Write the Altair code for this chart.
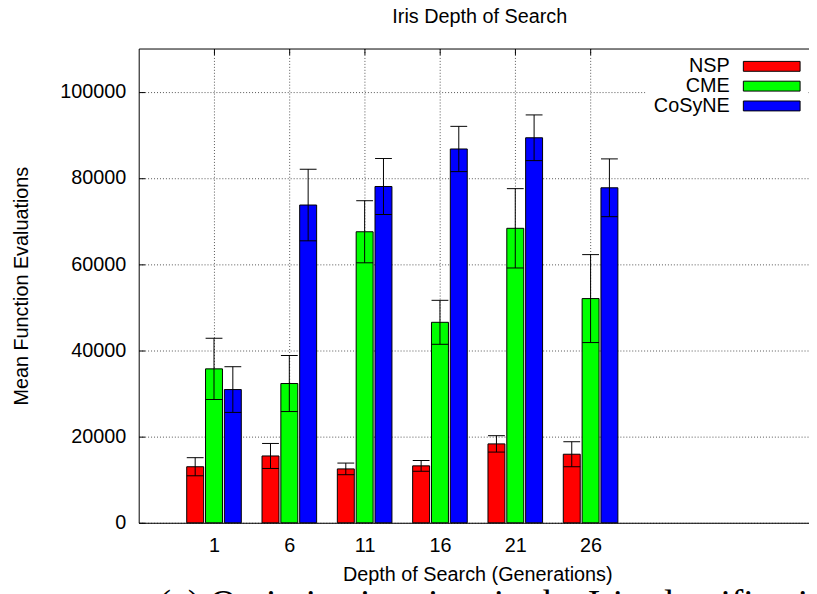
import altair as alt
import pandas as pd

# ---- data ----
depths = [1, 6, 11, 16, 21, 26]
series = ["NSP", "CME", "CoSyNE"]
colors = ["#ff0000", "#00ff00", "#0000ff"]
nsp_mean = [13000, 15500, 12500, 13200, 18300, 15900]
nsp_err = [2100, 2900, 1350, 1250, 1900, 2900]
cme_mean = [35700, 32300, 67500, 46500, 68300, 52000]
cme_err = [7100, 6500, 7200, 5100, 9200, 10200]
cosyne_mean = [30900, 73700, 78000, 86700, 89300, 77700]
cosyne_err = [5300, 8300, 6500, 5250, 5300, 6700]
y_ticks = [0, 20000, 40000, 60000, 80000, 100000]
caption = "(a) Optimization time in the Iris classification task"

means = [nsp_mean, cme_mean, cosyne_mean]
errs = [nsp_err, cme_err, cosyne_err]

# histogram layout (gnuplot-style clustered bars): 3 bars + 1 gap per cluster
GROUP = 5.0                 # spacing of the clusters in depth units
SLOT = GROUP / 4.0
HALF = SLOT * 0.9 / 2.0

rows = []
for i, s in enumerate(series):
    for j, d in enumerate(depths):
        xc = d + (i - 1) * SLOT
        m, e = means[i][j], errs[i][j]
        rows.append(dict(depth=d, series=s, mean=m, err=e, xc=xc,
                         x0=xc - HALF, x1=xc + HALF, lo=m - e, hi=m + e))
df = pd.DataFrame(rows)

FONT = "Liberation Sans"
xscale = alt.Scale(domain=[-4, 40.5], nice=False, zero=False)
yscale = alt.Scale(domain=[0, 110000], nice=False, zero=True)

grid_style = dict(grid=True, gridColor="#555555", gridDash=[1, 2], gridWidth=1)

bars = alt.Chart(df).mark_bar(stroke="black", strokeWidth=1).encode(
    x=alt.X("x0:Q", scale=xscale,
            axis=alt.Axis(values=depths, title="Depth of Search (Generations)",
                          ticks=False, labelPadding=13, domain=True,
                          domainColor="black", titleX=342, titleY=58,
                          titleBaseline="alphabetic", labelFlush=False,
                          **grid_style)),
    x2="x1:Q",
    y=alt.Y("mean:Q", scale=yscale,
            axis=alt.Axis(values=y_ticks, title="Mean Function Evaluations",
                          ticks=False, labelPadding=13, domain=True,
                          domainColor="black", titleX=-112,
                          titleBaseline="alphabetic", format="d",
                          labelFlush=False, **grid_style)),
    y2=alt.datum(0),
    color=alt.Color("series:N", scale=alt.Scale(domain=series, range=colors),
                    legend=alt.Legend(
                        title=None, orient="none", legendX=512, legendY=3,
                        symbolType="M-3.016,-0.526L3.016,-0.526L3.016,0.526L-3.016,0.526Z",
                        symbolSize=361, symbolStrokeColor="black",
                        symbolStrokeWidth=1, symbolOpacity=1,
                        labelFont=FONT, labelFontSize=20, labelColor="black",
                        labelAlign="right", labelOffset={"expr": "-52.35"},
                        symbolOffset=112.35,
                        rowPadding=0, fillColor="white", padding=5,
                        labelLimit=0)),
)

# error bars; this layer also carries the top frame line
err_rule = alt.Chart(df).mark_rule(color="black", strokeWidth=1).encode(
    x=alt.X("xc:Q", scale=xscale,
            axis=alt.Axis(orient="top", labels=False, ticks=False, grid=False,
                          domain=True, domainColor="black", title=None)),
    y=alt.Y("lo:Q", scale=yscale, axis=None),
    y2="hi:Q",
)

# upper caps; this layer carries gnuplot-like inward ticks on top and left
inward = dict(labels=False, grid=False, domain=False, ticks=True, tickSize=6,
              tickColor="black", tickWidth=1, title=None, offset=-6)
cap_hi = alt.Chart(df).mark_tick(orient="horizontal", size=17, thickness=1,
                                 color="black", opacity=1).encode(
    x=alt.X("xc:Q", scale=xscale,
            axis=alt.Axis(orient="top", values=depths, **inward)),
    y=alt.Y("hi:Q", scale=yscale,
            axis=alt.Axis(orient="left", values=y_ticks, **inward)),
)
cap_lo = alt.Chart(df).mark_tick(orient="horizontal", size=17, thickness=1,
                                 color="black", opacity=1).encode(
    x=alt.X("xc:Q", scale=xscale, axis=None),
    y=alt.Y("lo:Q", scale=yscale, axis=None),
)

caption_text = alt.Chart(pd.DataFrame({"caption": [caption]})).mark_text(
    font="Liberation Serif", fontSize=38, align="left", baseline="alphabetic",
    color="black").encode(
    x=alt.value(20), y=alt.value(573), text="caption:N")

chart = alt.layer(bars, err_rule, cap_hi, cap_lo, caption_text).resolve_axis(
    x="independent", y="independent"
).properties(
    width=677, height=479,
    background="white",
    autosize=alt.AutoSizeParams(type="none"),
    padding={"left": 132, "top": 38, "right": 0, "bottom": 69},
    title=alt.TitleParams("Iris Depth of Search", font=FONT, fontSize=20,
                          fontWeight="normal", color="black", anchor="middle",
                          baseline="alphabetic", offset=5.5, dx=6),
).configure_view(stroke=None).configure_axis(
    labelFont=FONT, labelFontSize=20, labelColor="black",
    titleFont=FONT, titleFontSize=20, titleFontWeight="normal",
    titleColor="black",
)

chart.save("out.html", embed_options={"renderer": "svg", "actions": False})
